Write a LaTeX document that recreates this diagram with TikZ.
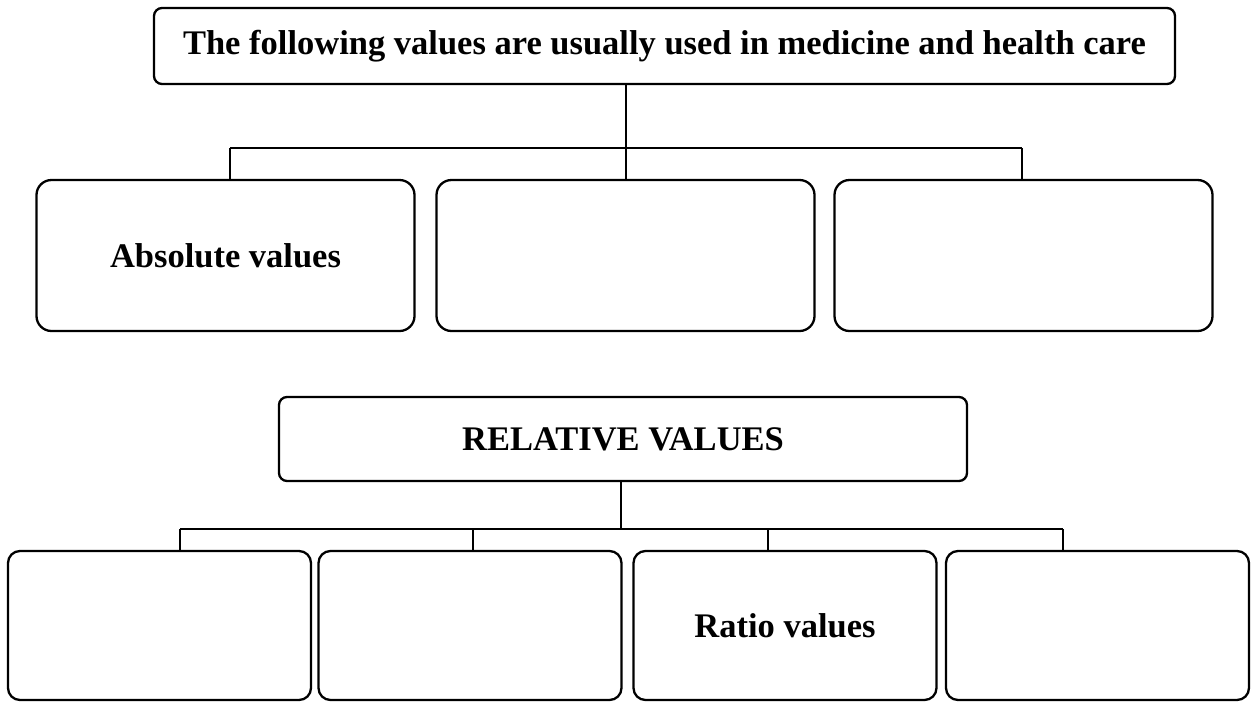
\documentclass[tikz,border=0pt]{standalone}
\usepackage{fontspec}
\setmainfont{Liberation Serif}
\begin{document}
\begin{tikzpicture}[x=1pt,y=-1pt,
  every node/.style={inner sep=0pt,outer sep=0pt,font=\fontsize{34.5}{41}\selectfont\bfseries},
  headbox/.style={draw,line width=2.3pt,rounded corners=8pt},
  bigbox/.style={draw,line width=2.3pt,rounded corners=15pt,minimum width=378pt,minimum height=151pt},
  smallbox/.style={draw,line width=2.3pt,rounded corners=12pt,minimum width=303pt,minimum height=149pt},
  trunk/.style={line width=2.6pt},
  branch/.style={line width=2pt}]
\useasboundingbox (0,0) rectangle (1252,702);

% upper tree
\node[headbox,minimum width=1021pt,minimum height=76pt] (top) at (664.5,46)
  {The following values are usually used in medicine and health care};
\node[bigbox] (a1) at (225.5,255.5) {Absolute values};
\node[bigbox] (a2) at (625.5,255.5) {};
\node[bigbox] (a3) at (1023.5,255.5) {};

\coordinate (j1) at (626,148);
\coordinate (c1) at (230,148);
\coordinate (c3) at (1022,148);
\draw[trunk] (j1 |- top.south) -- (j1);
\draw[branch] (c1) -- (c3);
\draw[branch] (c1) -- (c1 |- a1.north);
\draw[branch] (j1) -- (j1 |- a2.north);
\draw[branch] (c3) -- (c3 |- a3.north);

% lower tree
\node[headbox,minimum width=688pt,minimum height=84pt] (rel) at (623,439) {RELATIVE VALUES};
\node[smallbox] (b1) at (159.5,625.5) {};
\node[smallbox] (b2) at (470,625.5) {};
\node[smallbox] (b3) at (785,625.5) {Ratio values};
\node[smallbox] (b4) at (1097.5,625.5) {};

\coordinate (j2) at (621,529);
\coordinate (d1) at (180,529);
\coordinate (d2) at (473,529);
\coordinate (d3) at (768,529);
\coordinate (d4) at (1063,529);
\draw[trunk] (j2 |- rel.south) -- (j2);
\draw[branch] (d1) -- (d4);
\draw[branch] (d1) -- (d1 |- b1.north);
\draw[branch] (d2) -- (d2 |- b2.north);
\draw[branch] (d3) -- (d3 |- b3.north);
\draw[branch] (d4) -- (d4 |- b4.north);
\end{tikzpicture}
\end{document}
